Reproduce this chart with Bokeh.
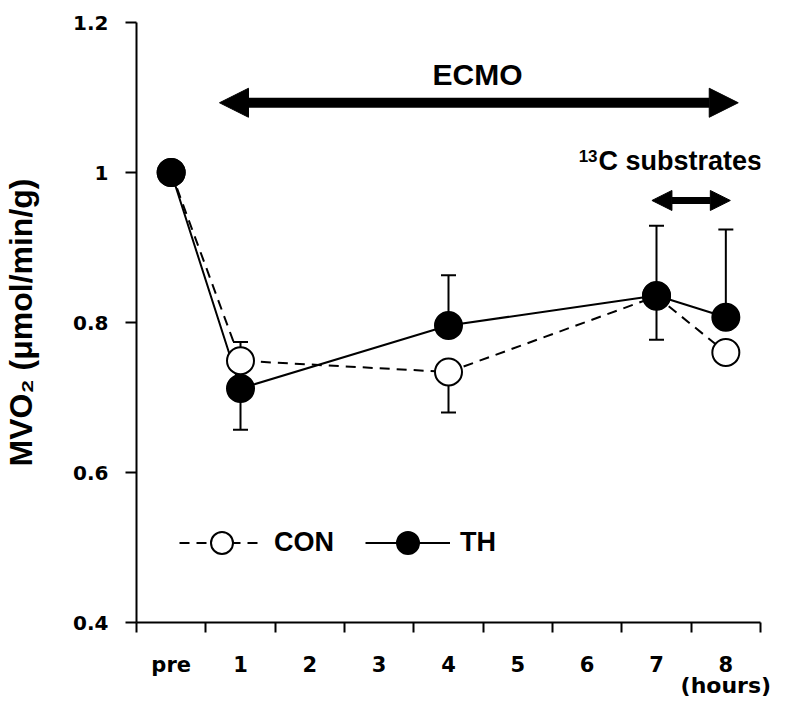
from bokeh.plotting import figure
from bokeh.models import (Range1d, FixedTicker, Legend, LegendItem, Label,
                          Arrow, NormalHead, ColumnDataSource, LinearAxis)
from bokeh.embed import file_html
from bokeh.resources import INLINE
import numpy as np

# ---------------- data ----------------
time_labels = ["pre", "1", "2", "3", "4", "5", "6", "7", "8"]
time_unit = "(hours)"
sample_times = ["pre", "1", "4", "7", "8"]

con_mean = [1.0, 0.749, 0.734, 0.835, 0.760]
con_sem = [0.0, 0.025, 0.054, 0.058, 0.0]
con_bar_dir = [0, 1, -1, -1, 0]

th_mean = [1.0, 0.712, 0.796, 0.836, 0.807]
th_sem = [0.0, 0.055, 0.067, 0.093, 0.117]
th_bar_dir = [0, -1, 1, 1, 1]

y_ticks = [0.4, 0.6, 0.8, 1.0, 1.2]
y_tick_labels = ["0.4", "0.6", "0.8", "1", "1.2"]

# ---------------- figure ----------------
BOLD_ARIAL = "Liberation Sans"
TICK_FONT = "DejaVu Sans"

p = figure(width=785, height=700, x_range=Range1d(0, len(time_labels)),
           y_range=Range1d(0.4, 1.2), output_backend="svg", toolbar_location=None,
           min_border_left=136, min_border_right=25, min_border_top=22,
           min_border_bottom=78)
p.xgrid.visible = False
p.ygrid.visible = False
p.outline_line_color = None

centers = [i + 0.5 for i in range(len(time_labels))]
x_pos = np.array([time_labels.index(t) + 0.5 for t in sample_times])

# x axis: boundary tick marks (minor) with labels centred in each slot
xa = p.xaxis[0]
xa.ticker = FixedTicker(ticks=centers, minor_ticks=list(range(len(time_labels) + 1)))
xa.major_label_overrides = {c: lab for c, lab in zip(centers, time_labels)}
xa.axis_line_width = 2
xa.axis_line_color = "black"
xa.major_tick_out = 0
xa.major_tick_in = 0
xa.minor_tick_out = 10
xa.minor_tick_in = 0
xa.minor_tick_line_width = 2
xa.minor_tick_line_color = "black"
xa.major_label_text_font = TICK_FONT
xa.major_label_text_font_style = "bold"
xa.major_label_text_font_size = "21px"
xa.major_label_text_color = "black"
xa.major_label_standoff = 20

# second (label-only) axis carrying the time unit under the last slot
ux = LinearAxis(ticker=FixedTicker(ticks=[centers[-1]], minor_ticks=[]),
                major_label_overrides={centers[-1]: time_unit},
                axis_line_color=None, major_tick_line_color=None,
                minor_tick_line_color=None, major_tick_out=0, major_tick_in=0,
                major_label_standoff=-7, major_label_text_font=TICK_FONT,
                major_label_text_font_style="bold", major_label_text_font_size="22px",
                major_label_text_color="black")
p.add_layout(ux, "below")

ya = p.yaxis[0]
ya.ticker = FixedTicker(ticks=y_ticks, minor_ticks=[])
ya.major_label_overrides = {t: s for t, s in zip(y_ticks, y_tick_labels)}
ya.axis_line_width = 2
ya.axis_line_color = "black"
ya.major_tick_out = 11
ya.major_tick_in = 0
ya.major_tick_line_width = 2
ya.major_tick_line_color = "black"
ya.major_label_text_font = TICK_FONT
ya.major_label_text_font_style = "bold"
ya.major_label_text_font_size = "20px"
ya.major_label_text_color = "black"
ya.major_label_standoff = 17
ya.axis_label = "MVO\u2082 (\u03bcmol/min/g)"
ya.axis_label_text_font = BOLD_ARIAL
ya.axis_label_text_font_style = "bold"
ya.axis_label_text_font_size = "32px"
ya.axis_label_text_color = "black"
ya.axis_label_standoff = 31

# ---------------- error bars ----------------
def bars(mean, sem, direction):
    mean = np.array(mean); sem = np.array(sem); d = np.array(direction)
    m = sem > 0
    return ColumnDataSource(dict(x=x_pos[m], y0=mean[m], y1=mean[m] + d[m] * sem[m]))

for src in (bars(con_mean, con_sem, con_bar_dir), bars(th_mean, th_sem, th_bar_dir)):
    p.segment(x0="x", y0="y0", x1="x", y1="y1", source=src, line_color="black", line_width=2)
    p.scatter(x="x", y="y1", source=src, marker="dash", size=15, line_color="black", line_width=2)

# ---------------- series ----------------
con_line = p.line(x_pos, con_mean, line_color="black", line_width=2, line_dash="10 7")
th_line = p.line(x_pos, th_mean, line_color="black", line_width=2)
con_pts = p.scatter(x_pos, con_mean, size=27, fill_color="white", line_color="black", line_width=2)
th_pts = p.scatter(x_pos, th_mean, size=27, fill_color="black", line_color="black", line_width=2)

legend = Legend(items=[LegendItem(label="CON", renderers=[con_line, con_pts]),
                       LegendItem(label="TH", renderers=[th_line, th_pts])],
                location=(43, 52), orientation="horizontal",
                glyph_width=85, glyph_height=55, label_standoff=10, spacing=31,
                padding=0, margin=0, border_line_alpha=0, background_fill_alpha=0,
                label_text_font=BOLD_ARIAL, label_text_font_style="bold",
                label_text_font_size="27px", label_text_color="black")
p.add_layout(legend)

# ---------------- annotations ----------------
p.add_layout(Arrow(start=NormalHead(size=29, fill_color="black", line_color="black"),
                   end=NormalHead(size=29, fill_color="black", line_color="black"),
                   x_start=1.197, y_start=1.093, x_end=8.679, y_end=1.093,
                   line_width=10, line_color="black"))
p.add_layout(Label(x=4.918, y=1.1307, text="ECMO", text_align="center",
                   text_baseline="middle", text_font=BOLD_ARIAL,
                   text_font_style="bold", text_font_size="30px", text_color="black"))

p.add_layout(Arrow(start=NormalHead(size=20, fill_color="black", line_color="black"),
                   end=NormalHead(size=20, fill_color="black", line_color="black"),
                   x_start=7.434, y_start=0.9627, x_end=8.565, y_end=0.9627,
                   line_width=7, line_color="black"))
p.add_layout(Label(x=6.664, y=1.0147, text="C substrates", text_align="left",
                   text_baseline="middle", text_font=BOLD_ARIAL,
                   text_font_style="bold", text_font_size="27px", text_color="black"))
p.add_layout(Label(x=6.664, y=1.0147, text="13", text_align="right", x_offset=-1,
                   y_offset=5, text_baseline="middle", text_font=BOLD_ARIAL,
                   text_font_style="bold", text_font_size="17px", text_color="black"))

open("out.html", "w").write(file_html(p, INLINE))
